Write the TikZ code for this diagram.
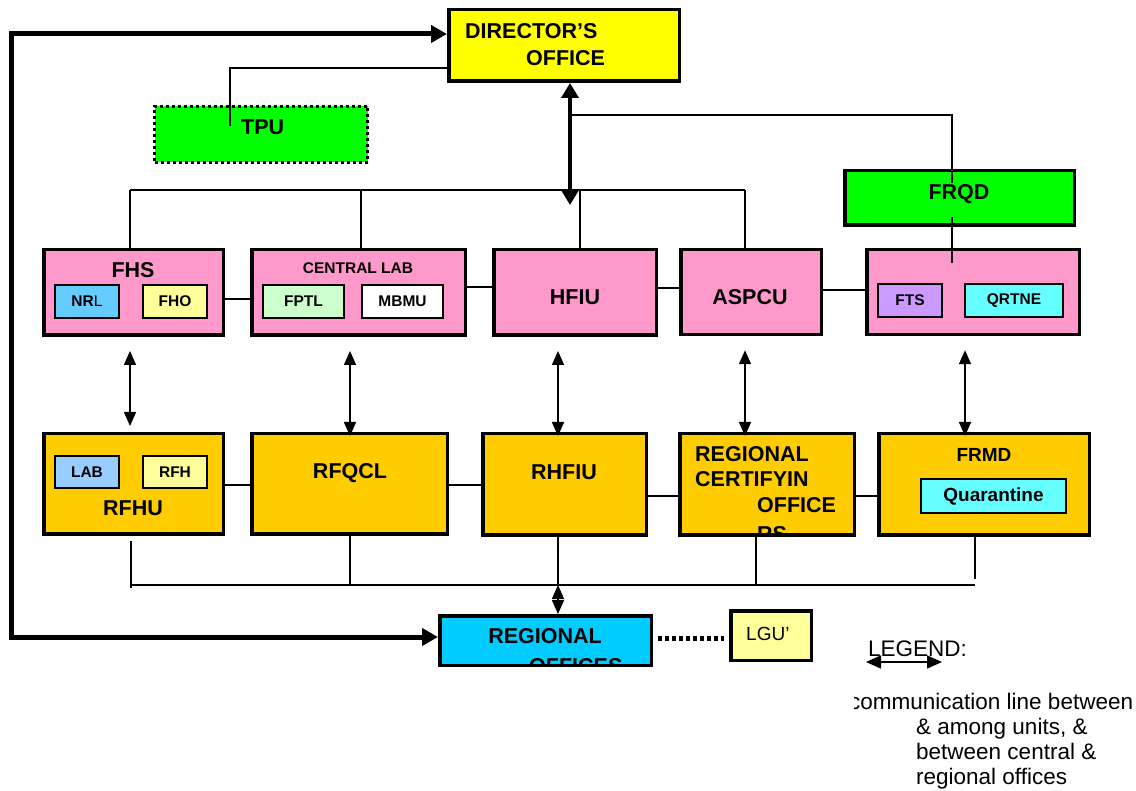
\documentclass[tikz,border=0pt]{standalone}
\usepackage{fontspec}
\setmainfont{Liberation Sans}
\usetikzlibrary{arrows.meta,calc}
\definecolor{dirY}{HTML}{FFFF00}
\definecolor{grn}{HTML}{00FF00}
\definecolor{pnk}{HTML}{FF99CC}
\definecolor{org}{HTML}{FFCC00}
\definecolor{nrlC}{HTML}{66CCFF}
\definecolor{ltY}{HTML}{FFFF99}
\definecolor{ltG}{HTML}{CCFFCC}
\definecolor{purp}{HTML}{CC99FF}
\definecolor{cyn}{HTML}{66FFFF}
\definecolor{labC}{HTML}{99CCFF}
\definecolor{roC}{HTML}{00CCFF}
\begin{document}
\begin{tikzpicture}[x=1pt,y=-1pt,
  box/.style={draw=black, line width=3.5pt, inner sep=0pt},
  subbox/.style={draw=black, line width=1.8pt, inner sep=0pt, font=\fontsize{15.5}{18}\selectfont\bfseries},
  lbl/.style={inner sep=0pt, font=\fontsize{21.5}{25}\selectfont\bfseries},
  lblm/.style={inner sep=0pt, font=\fontsize{19}{23}\selectfont\bfseries},
  lbls/.style={inner sep=0pt, font=\fontsize{15.5}{18}\selectfont\bfseries},
  plain/.style={inner sep=0pt, font=\fontsize{22.5}{25}\selectfont},
  conn/.style={line width=1.4pt},
  dbl/.style={line width=1.6pt, {Triangle[length=14pt,width=12pt]}-{Triangle[length=14pt,width=12pt]}},
  bigdbl/.style={line width=4.5pt, {Triangle[length=15pt,width=17pt]}-{Triangle[length=15pt,width=17pt]}},
  bigline/.style={line width=5pt, line join=miter, {Triangle[length=16pt,width=17pt]}-{Triangle[length=16pt,width=17pt]}},
  dotline/.style={line width=5pt, dash pattern=on 4pt off 3pt}
]
\useasboundingbox (0,0) rectangle (1136,791);
\fill[white] (0,0) rectangle (1136,791);

% ---------- main boxes ----------
\node[box, fill=dirY, minimum width=230.5pt, minimum height=71.5pt] (dir) at (564,45.5) {};
\node[draw=black, line width=3pt, dash pattern=on 3pt off 3pt, fill=grn, inner sep=0pt,
      minimum width=213pt, minimum height=56pt] (tpu) at (261,134.5) {};
\node[box, fill=grn, minimum width=229.5pt, minimum height=54.5pt] (frqd) at (959.5,198) {};

\node[box, fill=pnk, minimum width=179.5pt, minimum height=85.5pt] (fhs) at (133.5,292.5) {};
\node[box, fill=pnk, minimum width=213.5pt, minimum height=85.5pt] (cl) at (358.5,292.5) {};
\node[box, fill=pnk, minimum width=162.5pt, minimum height=85.5pt] (hfiu) at (575,292.5) {};
\node[box, fill=pnk, minimum width=140.5pt, minimum height=85pt] (aspcu) at (751,292) {};
\node[box, fill=pnk, minimum width=212.5pt, minimum height=85pt] (fs) at (973,292) {};

\node[box, fill=org, minimum width=179.5pt, minimum height=100.5pt] (rfhu) at (133.5,484) {};
\node[box, fill=org, minimum width=195.5pt, minimum height=100.5pt] (rfqcl) at (349.5,484) {};
\node[box, fill=org, minimum width=163.5pt, minimum height=101.5pt] (rhfiu) at (564.5,484.5) {};
\node[box, fill=org, minimum width=174.5pt, minimum height=101.5pt] (rco) at (767,484.5) {};
\node[box, fill=org, minimum width=210.5pt, minimum height=101.5pt] (frmd) at (984,484.5) {};

\node[box, fill=roC, minimum width=211.5pt, minimum height=49.5pt] (ro) at (545.5,640.5) {};
\node[box, fill=ltY, minimum width=80.5pt, minimum height=49.5pt] (lgu) at (771,635.5) {};

% ---------- sub boxes ----------
\node[subbox, fill=nrlC, minimum width=64.2pt, minimum height=33.2pt] (nrl) at (87,301.5) {NR\mdseries L};
\node[subbox, fill=ltY, minimum width=64.2pt, minimum height=33.2pt] (fho) at (175,301.5) {FHO};
\node[subbox, fill=ltG, minimum width=81.2pt, minimum height=33.2pt] (fptl) at (303.5,301.5) {FPTL};
\node[subbox, fill=white, minimum width=81.2pt, minimum height=33.2pt] (mbmu) at (402.5,301.5) {MBMU};
\node[subbox, fill=purp, minimum width=64.2pt, minimum height=33.2pt] (fts) at (910,300.5) {FTS};
\node[subbox, fill=cyn, minimum width=98.2pt, minimum height=33.2pt] (qrtne) at (1014,300.5) {QRTNE};
\node[subbox, fill=labC, minimum width=64.2pt, minimum height=32.2pt] (lab) at (87,472) {LAB};
\node[subbox, fill=ltY, minimum width=64.2pt, minimum height=32.2pt] (rfh) at (175,472) {RFH};
\node[subbox, fill=cyn, minimum width=145.2pt, minimum height=34.2pt,
      font=\fontsize{19}{23}\selectfont\bfseries] (quar) at (993.5,496) {Quarantine};

% ---------- labels ----------
\node[lbl, anchor=base west] (tdir1) at (465,39) {DIRECTOR’S};
\node[lbl, anchor=base west] (tdir2) at (526,66) {OFFICE};
\node[lbl, anchor=base west] (ttpu) at (241,135) {TPU};
\node[lbl, anchor=base] (tfrqd) at (959,200) {FRQD};
\node[lbl, anchor=base] (tfhs) at (133,278) {FHS};
\node[lbls, anchor=base] (tcl) at (358,274) {CENTRAL LAB};
\node[lbl, anchor=base] (thfiu) at (575,305) {HFIU};
\node[lbl, anchor=base] (taspcu) at (750,305) {ASPCU};
\node[lbl, anchor=base] (trfhu) at (133,516) {RFHU};
\node[lbl, anchor=base] (trfqcl) at (350,479) {RFQCL};
\node[lbl, anchor=base] (trhfiu) at (564,480) {RHFIU};
\node[lbl, anchor=base west] (trco1) at (695,462) {REGIONAL};
\node[lbl, anchor=base west] (trco2) at (695,487) {CERTIFYIN};
\node[lbl, anchor=base west] (trco3) at (757,513) {OFFICE};
\begin{scope}
  \clip ($(rco.south west)+(1.75,-1.75)$) rectangle ($(rco.north east)+(-1.75,1.75)$);
  \node[lbl, anchor=base west] (trco4) at (757,542) {RS};
\end{scope}
\node[lblm, anchor=base] (tfrmd) at (984,462) {FRMD};
\node[lbl, anchor=base] (tro1) at (545,643) {REGIONAL};
\begin{scope}
  \clip ($(ro.south west)+(1.75,-1.75)$) rectangle ($(ro.north east)+(-1.75,1.75)$);
  \node[lbl, anchor=base west] (tro2) at (529,673) {OFFICES};
\end{scope}
\node[inner sep=0pt, font=\fontsize{19}{23}\selectfont, anchor=base west] (tlgu) at (746,640) {LGU’};

% ---------- top connectors ----------
\coordinate (tp) at (230,126);
\draw[conn] ($(dir.west)+(0,22.5)$) -| (tp);
\coordinate (hub) at (570,205);
\coordinate (fr1) at (952,115);
\coordinate (fr2) at (952,183);
\coordinate (fr3) at (952,217);
\coordinate (fr4) at (952,263);
\draw[conn] (hub |- fr1) -- (fr1) -- (fr2);
\draw[conn] (fr3) -- (fr4);
\coordinate (b1) at (130,190);
\coordinate (b2) at (361,190);
\coordinate (b3) at (580,190);
\coordinate (b4) at (745,190);
\draw[conn] (b1) -- (b4);
\draw[conn] (b1) -- (b1 |- fhs.north);
\draw[conn] (b2) -- (b2 |- cl.north);
\draw[conn] (b3) -- (b3 |- hfiu.north);
\draw[conn] (b4) -- (b4 |- aspcu.north);
\draw[bigdbl] (dir.south -| hub) -- (hub);

% ---------- row connectors ----------
\draw[conn] ([yshift=-6.5pt]fhs.east) coordinate (h1) -- (h1 -| cl.west);
\draw[conn] ([yshift=5.5pt]cl.east) coordinate (h2) -- (h2 -| hfiu.west);
\draw[conn] ([yshift=4.5pt]hfiu.east) coordinate (h3) -- (h3 -| aspcu.west);
\draw[conn] ([yshift=2pt]aspcu.east) coordinate (h4) -- (h4 -| fs.west);
\draw[conn] ([yshift=-1pt]rfhu.east) coordinate (h5) -- (h5 -| rfqcl.west);
\draw[conn] ([yshift=-1pt]rfqcl.east) coordinate (h6) -- (h6 -| rhfiu.west);
\draw[conn] ([yshift=-11.5pt]rhfiu.east) coordinate (h7) -- (h7 -| rco.west);
\draw[conn] ([yshift=-11.5pt]rco.east) coordinate (h8) -- (h8 -| frmd.west);

% ---------- vertical double arrows ----------
\coordinate (v1) at (130,0);
\coordinate (v2) at (350,0);
\coordinate (v3) at (558,0);
\coordinate (v4) at (745,0);
\coordinate (v5) at (965,0);
\draw[dbl] ($(fhs.south -| v1)+(0,14)$) -- ($(rfhu.north -| v1)+(0,-6)$);
\draw[dbl] ($(cl.south -| v2)+(0,14)$) -- ($(rfqcl.north -| v2)+(0,4)$);
\draw[dbl] ($(hfiu.south -| v3)+(0,14)$) -- ($(rhfiu.north -| v3)+(0,4)$);
\draw[dbl] ($(aspcu.south -| v4)+(0,14)$) -- ($(rco.north -| v4)+(0,4)$);
\draw[dbl] ($(fs.south -| v5)+(0,14)$) -- ($(frmd.north -| v5)+(0,4)$);

% ---------- bottom bus ----------
\coordinate (c1) at (131,585);
\coordinate (c2) at (350,585);
\coordinate (c3) at (558,585);
\coordinate (c4) at (756,585);
\coordinate (c5) at (975,585);
\draw[conn] (c1) -- (c5);
\draw[conn] ($(rfhu.south -| c1)+(0,5)$) -- ($(c1)+(0,3)$);
\draw[conn] (rfqcl.south -| c2) -- (c2);
\draw[conn] (rhfiu.south -| c3) -- (c3);
\draw[conn] (rco.south -| c4) -- (c4);
\draw[conn] ($(frmd.south -| c5)+(0,-3)$) -- ($(c5)+(0,-6)$);
\draw[dbl] (c3) -- (ro.north -| c3);

% ---------- outer thick line ----------
\coordinate (lc) at (11,34);
\draw[bigline] (lc -| dir.west) -- (lc) |- ($(ro.west)+(0,-3.5)$);

% ---------- LGU dotted ----------
\draw[dotline] ($(ro.east)+(5,-2.5)$) -- ($(lgu.west |- ro.east)+(-5,-2.5)$);

% ---------- legend ----------
\node[plain, anchor=base west] (tleg) at (868,656) {LEGEND:};
\coordinate (lg1) at (866,662);
\coordinate (lg2) at (942,662);
\draw[line width=1.6pt, {Triangle[length=15pt,width=13pt]}-{Triangle[length=15pt,width=13pt]}] (lg1) -- (lg2);
\begin{scope}
  \clip (854,680) rectangle (1136,720);
  \node[plain, anchor=base west] (tl1) at (849,709) {communication line between};
\end{scope}
\node[plain, anchor=base west] (tl2) at (916,734) {\&{} among units, \&};
\node[plain, anchor=base west] (tl3) at (916,759) {between central \&};
\node[plain, anchor=base west] (tl4) at (916,784) {regional offices};
\end{tikzpicture}
\end{document}
